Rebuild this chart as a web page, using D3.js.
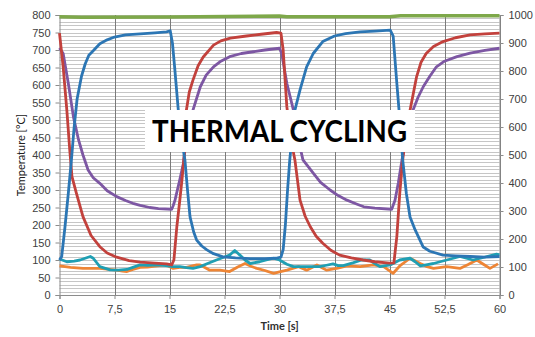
<!doctype html>
<html>
<head>
<meta charset="utf-8">
<style>
  body { margin: 0; background: #fff; }
  svg { display: block; font-family: Lato, "Open Sans", sans-serif; }
  .tick text { fill: #404040; font-size: 11px; }
  .axis path, .axis line { stroke: #8c8c8c; }
</style>
<script src="https://d3js.org/d3.v7.min.js"></script>
</head>
<body>
<svg width="535" height="337"></svg>
<script>
// time [s], temperature [°C]
var blue = [[0,100],[0.3,110],[0.75,195],[1.2,290],[1.6,380],[2,480],[2.4,560],[3,625],[3.5,660],[4,685],[4.7,700],[5.5,718],[6.5,729],[7.5,737],[9,743],[11,746],[13,749],[14.6,752],[15.1,755],[15.4,720],[15.7,651],[16.2,528],[16.7,440],[17.1,386],[17.5,290],[17.8,223],[18.3,180],[18.7,157],[19.4,140],[20.1,129],[21,118],[22.3,109],[24,106],[26,104],[28,104],[29.5,105],[30.2,108],[30.5,130],[30.8,200],[31.1,300],[31.4,386],[31.8,470],[32.1,528],[32.8,586],[33.7,652],[34.6,690],[35.9,724],[37.5,740],[39,747],[41,752],[43,754],[45.1,757],[45.5,740],[46,605],[46.3,528],[46.8,386],[47.3,290],[47.8,223],[48.5,186],[49.6,137],[50.5,125],[52.3,114],[54,112],[56,110],[58,108],[60,110]];

var red = [[0,748],[0.5,652],[1,528],[1.4,414],[1.7,338],[2.3,291],[3.2,224],[4.3,170],[5.5,138],[6.5,120],[7.8,108],[9.5,98],[11,94],[13,91],[14.6,89],[15.3,86],[15.6,100],[16,195],[16.4,270],[16.7,329],[17.1,420],[17.3,528],[17.7,580],[18.2,614],[18.9,655],[19.6,680],[21,714],[22,726],[23.3,734],[25.5,740],[27.5,745],[29.6,750],[30.2,748],[30.5,700],[31,538],[31.5,450],[32.1,386],[32.8,271],[33.5,225],[34.2,195],[35,168],[35.9,148],[37,128],[38.2,114],[39.8,106],[41.4,100],[43,95],[45,91],[45.6,92],[46,167],[46.4,291],[46.8,386],[47.3,470],[47.8,528],[48.7,624],[49.3,665],[50,690],[51,710],[52.3,724],[54,735],[56,743],[58,746],[60,748]];

var purple = [[0,706],[0.5,690],[1.2,605],[1.9,509],[2.6,443],[3.2,400],[3.9,357],[4.6,335],[5.5,319],[6.5,298],[7.8,281],[9,270],[10,262],[11,256],[12.3,250],[13.5,247],[15.3,245],[15.5,255],[15.75,271],[16.4,329],[16.9,376],[17.1,414],[17.6,470],[18.2,528],[19.2,595],[20,628],[21,652],[22,668],[23.2,681],[24.8,690],[26.4,695],[28,700],[30,705],[30.3,690],[31,605],[31.9,528],[32.5,450],[33.2,386],[34.6,348],[35.6,322],[36.9,300],[38,284],[39.2,271],[40.5,260],[41.5,252],[43,248],[45.3,245],[45.75,271],[46.2,320],[46.7,386],[47.2,440],[48.2,528],[48.9,565],[49.6,595],[50.5,625],[51.4,652],[52.5,668],[54.2,681],[56,691],[58,699],[60,705]];

var teal = [[0,103],[1,95],[2,97],[2.8,100],[3.5,105],[4.2,110],[4.6,105],[5.5,81],[6.9,72],[8,71],[9.2,73],[10,79],[11,86],[12,85],[13.3,86],[14.5,84],[15.5,81],[16.4,81],[17.3,78],[18.2,76],[19.2,81],[20.2,90],[21.4,100],[22.3,107],[23.2,114],[23.9,127],[24.6,114],[25.3,100],[26,90],[27.3,95],[28.2,100],[29.2,105],[30,100],[31,88],[31.9,81],[33.7,81],[35.5,81],[36.4,85],[37.3,89],[38,84],[38.7,84],[40,92],[41.2,100],[42.3,100],[43,90],[43.7,81],[45.1,86],[46.4,100],[47.8,105],[48.5,95],[49.2,83],[50,86],[51,90],[52.8,100],[54.6,110],[55.5,105],[56.4,100],[57.4,105],[58.3,110],[59.6,117],[60,115]];

var orange = [[0,83],[1.5,79],[3.2,76],[5.5,76],[7.8,71],[8.6,68],[9.2,67],[10,73],[11,79],[12,80],[13.3,83],[14.6,86],[15.5,76],[16.4,79],[17.3,79],[18.7,86],[19.2,86],[20.5,71],[21.9,71],[23.2,67],[24.3,80],[25.3,90],[26.1,82],[26.9,76],[28,70],[29.2,62],[30,66],[31,71],[32.6,81],[33.7,71],[35.1,86],[35.8,78],[36.4,71],[37.8,76],[39.2,83],[41,81],[42.8,86],[44.2,81],[45.5,62],[46.4,83],[47.8,105],[49.2,90],[50,82],[51,76],[52.8,81],[54.6,76],[55.8,88],[56.9,100],[57.8,88],[58.7,76],[59.8,89]];

// furnace setpoint, on the secondary axis
var green = [[0,994],[1.5,993],[3,992],[15,993],[30,996],[31,994],[45,994],[46.5,997],[60,997]];

var xTicks = d3.range(0, 60.1, 7.5);
var yTicks = d3.range(0, 801, 50);
var y2Ticks = d3.range(0, 1001, 100);

var svg = d3.select("svg");
var pLeft = 59.5, pRight = 499.5, pTop = 15, pBottom = 295;

var x = d3.scaleLinear().domain([0, 60]).range([pLeft, pRight]);
var y = d3.scaleLinear().domain([0, 800]).range([pBottom, pTop]);
var y2 = d3.scaleLinear().domain([0, 1000]).range([pBottom, pTop]);

// grid
svg.append("g").selectAll("line")
  .data(d3.range(10, 801, 10))
  .enter().append("line")
  .attr("x1", pLeft).attr("x2", pRight)
  .attr("y1", function(d) { return Math.round(y(d)) + 0.5; })
  .attr("y2", function(d) { return Math.round(y(d)) + 0.5; })
  .attr("stroke", "#c6c6c6").attr("stroke-width", 1);

svg.append("g").selectAll("line")
  .data(xTicks.slice(1))
  .enter().append("line")
  .attr("x1", function(d) { return Math.round(x(d)) + 0.5; })
  .attr("x2", function(d) { return Math.round(x(d)) + 0.5; })
  .attr("y1", pTop).attr("y2", pBottom)
  .attr("stroke", "#7a7a7a").attr("stroke-width", 1);

var fmt = function(d) { return String(d).replace(".", ","); };

svg.append("g").attr("class", "axis")
  .attr("transform", "translate(" + pLeft + ",0)")
  .call(d3.axisLeft(y).tickValues(yTicks).tickSize(4).tickPadding(5));

svg.append("g").attr("class", "axis")
  .attr("transform", "translate(" + pRight + ",0)")
  .call(d3.axisRight(y2).tickValues(y2Ticks).tickFormat(d3.format("d")).tickSize(4).tickPadding(5));

svg.append("g").attr("class", "axis")
  .attr("transform", "translate(0," + pBottom + ")")
  .call(d3.axisBottom(x).tickValues(xTicks).tickFormat(fmt).tickSize(4).tickPadding(6));

svg.selectAll(".axis .domain").attr("stroke", "#8c8c8c");

var line = d3.line()
  .x(function(d) { return x(d[0]); })
  .y(function(d) { return y(d[1]); });

var line2 = d3.line()
  .x(function(d) { return x(d[0]); })
  .y(function(d) { return y2(d[1]); });

var series = [
  { data: orange, color: "#ee8535" },
  { data: teal,   color: "#1f9fb3" },
  { data: purple, color: "#7d57a3" },
  { data: red,    color: "#c2413c" },
  { data: blue,   color: "#2c76b4" }
];

svg.append("g").selectAll("path")
  .data(series)
  .enter().append("path")
  .attr("d", function(s) { return line(s.data); })
  .attr("fill", "none")
  .attr("stroke", function(s) { return s.color; })
  .attr("stroke-width", 2.8)
  .attr("stroke-linejoin", "round");

svg.append("path")
  .attr("d", line2(green))
  .attr("fill", "none")
  .attr("stroke", "#7ea84a")
  .attr("stroke-width", 3.5);

// axis titles
svg.append("text")
  .attr("x", x(30)).attr("y", 330)
  .attr("text-anchor", "middle")
  .attr("font-size", 11).attr("font-weight", "bold").attr("fill", "#303030")
  .text("Time [s]");

svg.append("text")
  .attr("transform", "translate(25," + ((pTop + pBottom) / 2) + ") rotate(-90)")
  .attr("text-anchor", "middle")
  .attr("font-size", 11).attr("fill", "#202020")
  .text("Temperature [°C]");

// title banner
svg.append("rect")
  .attr("x", 145).attr("y", 110).attr("width", 270).attr("height", 42)
  .attr("fill", "#fff");

svg.append("text")
  .attr("x", 152).attr("y", 142)
  .attr("font-size", 31).attr("font-weight", "bold").attr("fill", "#000")
  .attr("textLength", 255).attr("lengthAdjust", "spacingAndGlyphs")
  .text("THERMAL CYCLING");
</script>
</body>
</html>
